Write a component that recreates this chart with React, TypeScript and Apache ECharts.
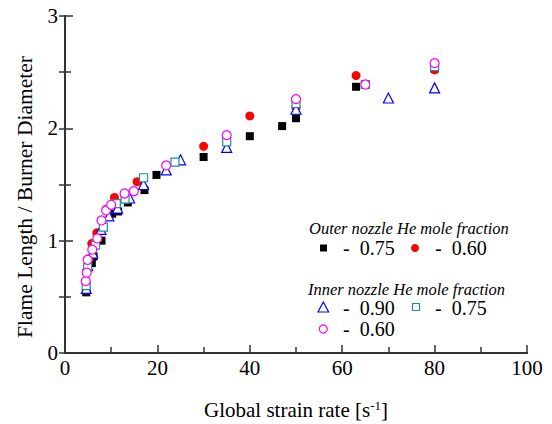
import React, { useEffect, useRef } from "react";
import * as echarts from "echarts";

const xTicks = [0, 20, 40, 60, 80, 100];
const yTicks = [0, 1, 2, 3];

const outer075: number[][] = [
  [4.6, 0.54], [5.8, 0.8], [6.2, 0.86], [7.9, 1.0], [10.2, 1.24], [11.5, 1.26], [13.6, 1.34],
  [17.2, 1.45], [19.8, 1.585], [30, 1.745], [40, 1.93], [47, 2.02], [50, 2.09], [63, 2.37], [80, 2.53],
];
const outer060: number[][] = [
  [4.6, 0.56], [5.2, 0.84], [5.8, 0.975], [6.9, 1.07], [8.9, 1.28], [10.7, 1.385], [15.6, 1.525],
  [30, 1.84], [40, 2.11], [50, 2.185], [63, 2.47], [80, 2.52],
];
const inner090: number[][] = [
  [4.6, 0.575], [4.9, 0.78], [6.0, 0.89], [7.8, 1.1], [9.5, 1.22], [11.4, 1.29], [14, 1.38],
  [17, 1.5], [21.9, 1.63], [25, 1.72], [35, 1.83], [50, 2.17], [70, 2.27], [80, 2.36],
];
const inner075: number[][] = [
  [4.6, 0.6], [4.9, 0.76], [6.6, 0.96], [8.3, 1.12], [11.1, 1.33], [13, 1.37], [17, 1.56],
  [23.8, 1.7], [35, 1.88], [50, 2.22], [65, 2.39], [80, 2.55],
];
const inner060: number[][] = [
  [4.5, 0.64], [4.7, 0.715], [4.9, 0.83], [5.9, 0.92], [7, 1.02], [7.9, 1.18], [8.9, 1.27],
  [10, 1.32], [12.9, 1.42], [14.9, 1.44], [21.9, 1.67], [35, 1.94], [50, 2.26], [65, 2.39], [80, 2.58],
];

const FONT = "Liberation Serif";
const AX = "#333333";

export default function App() {
  const ref = useRef<HTMLDivElement>(null);
  useEffect(() => {
    const chart = echarts.init(ref.current!, null, { renderer: "svg" });
    const axisCommon = {
      axisLine: { show: true, lineStyle: { color: AX, width: 2 } },
      splitLine: { show: false },
    };
    const legendText = (x: number, y: number, t: string) => ({
      type: "text",
      x,
      y,
      style: { text: t, fontFamily: FONT, fontSize: 20, fill: "#000", verticalAlign: "middle", align: "left" },
    });
    const option: any = {
      animation: false,
      backgroundColor: "#fff",
      textStyle: { fontFamily: FONT },
      grid: { left: 65, right: 25, top: 16, bottom: 71 },
      xAxis: [
        {
          type: "value",
          min: xTicks[0],
          max: xTicks[xTicks.length - 1],
          interval: 20,
          ...axisCommon,
          axisTick: { show: true, inside: true, length: 8, lineStyle: { color: AX, width: 1.5 } },
          minorTick: { show: true, splitNumber: 2, length: 6, lineStyle: { color: AX, width: 1.5 } },
          axisLabel: { fontFamily: FONT, fontSize: 21, color: "#000", margin: 4 },
        },
        {
          type: "value",
          position: "top",
          min: 0,
          max: 100,
          interval: 20,
          ...axisCommon,
          axisTick: { show: false },
          axisLabel: { show: false },
        },
      ],
      yAxis: [
        {
          type: "value",
          min: yTicks[0],
          max: yTicks[yTicks.length - 1],
          interval: 1,
          ...axisCommon,
          axisTick: { show: true, inside: true, length: 8, lineStyle: { color: AX, width: 1.5 } },
          minorTick: { show: true, splitNumber: 2, length: 6, lineStyle: { color: AX, width: 1.5 } },
          axisLabel: { fontFamily: FONT, fontSize: 21, color: "#000", margin: 7 },
        },
        {
          type: "value",
          position: "right",
          min: 0,
          max: 3,
          interval: 1,
          ...axisCommon,
          axisTick: { show: true, inside: true, length: 6, lineStyle: { color: AX, width: 1.5 } },
          minorTick: { show: true, splitNumber: 2, length: 6, lineStyle: { color: AX, width: 1.5 } },
          axisLabel: { show: false },
        },
      ],
      series: [
        {
          name: "Outer 0.75",
          type: "scatter",
          data: outer075,
          symbol: "rect",
          symbolSize: 8,
          itemStyle: { color: "#000000", opacity: 1 },
        },
        {
          name: "Outer 0.60",
          type: "scatter",
          data: outer060,
          symbol: "circle",
          symbolSize: 9,
          itemStyle: { color: "#ff0000", opacity: 1 },
        },
        {
          name: "Inner 0.90",
          type: "scatter",
          data: inner090,
          symbol: "triangle",
          symbolSize: 10,
          itemStyle: { color: "#ffffff", borderColor: "#0000ff", borderWidth: 1.2, opacity: 1 },
        },
        {
          name: "Inner 0.75",
          type: "scatter",
          data: inner075,
          symbol: "rect",
          symbolSize: 8,
          itemStyle: { color: "#ffffff", borderColor: "#1f9090", borderWidth: 1.2, opacity: 1 },
        },
        {
          name: "Inner 0.60",
          type: "scatter",
          data: inner060,
          symbol: "circle",
          symbolSize: 9,
          itemStyle: { color: "#ffffff", borderColor: "#ff00ff", borderWidth: 1.2, opacity: 1 },
        },
      ],
      graphic: [
        {
          type: "text",
          x: 25,
          y: 197,
          rotation: Math.PI / 2,
          style: {
            text: "Flame Length / Burner Diameter",
            fontFamily: FONT,
            fontSize: 21.5,
            fill: "#000",
            align: "center",
            verticalAlign: "middle",
          },
        },
        {
          type: "text",
          x: 296,
          y: 410,
          style: {
            text: "Global strain rate [s{sup|-1}]",
            fontFamily: FONT,
            fontSize: 21,
            fill: "#000",
            align: "center",
            verticalAlign: "middle",
            rich: {
              sup: { fontFamily: FONT, fontSize: 13, verticalAlign: "top", padding: [0, 0, 10, 0] },
            },
          },
        },
        {
          type: "text",
          x: 309,
          y: 228,
          style: {
            text: "Outer nozzle He mole fraction",
            fontFamily: FONT,
            fontStyle: "italic",
            fontSize: 16.5,
            fill: "#000",
            verticalAlign: "middle",
            align: "left",
          },
        },
        { type: "rect", shape: { x: 320, y: 244.5, width: 7, height: 7 }, style: { fill: "#000" } },
        legendText(343, 248, "-  0.75"),
        { type: "circle", shape: { cx: 415, cy: 248, r: 4 }, style: { fill: "#ff0000" } },
        legendText(435, 248, "-  0.60"),
        {
          type: "text",
          x: 308,
          y: 289,
          style: {
            text: "Inner nozzle He mole fraction",
            fontFamily: FONT,
            fontStyle: "italic",
            fontSize: 16.5,
            fill: "#000",
            verticalAlign: "middle",
            align: "left",
          },
        },
        {
          type: "polygon",
          shape: { points: [[323.3, 302], [318, 312], [328.6, 312]] },
          style: { fill: "none", stroke: "#0000ff", lineWidth: 1.2 },
        },
        legendText(343, 308, "-  0.90"),
        {
          type: "rect",
          shape: { x: 412.5, y: 303.5, width: 7, height: 7 },
          style: { fill: "none", stroke: "#1f9090", lineWidth: 1.2 },
        },
        legendText(435, 308, "-  0.75"),
        {
          type: "circle",
          shape: { cx: 323.3, cy: 329, r: 4 },
          style: { fill: "none", stroke: "#ff00ff", lineWidth: 1.2 },
        },
        legendText(343, 329, "-  0.60"),
      ],
    };
    chart.setOption(option);
    return () => chart.dispose();
  }, []);
  return <div ref={ref} style={{ width: 552, height: 424, position: "absolute", left: 0, top: 0 }} />;
}
